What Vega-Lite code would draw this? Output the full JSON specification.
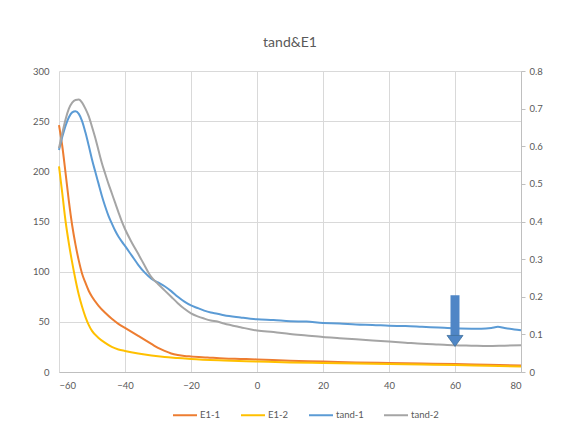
{
  "$schema": "https://vega.github.io/schema/vega-lite/v6.json",
  "width": 462,
  "height": 301,
  "autosize": {"type": "none"},
  "padding": {"left": 59, "top": 71, "right": 40, "bottom": 63},
  "background": "white",
  "title": {"text": "tand&E1", "fontSize": 14, "font": "Lato", "fontWeight": "normal", "color": "#595959", "offset": 16},
  "config": {
    "view": {"stroke": null},
    "axis": {"labelFont": "Lato", "labelColor": "#595959", "labelFontSize": 9.5, "gridColor": "#d9d9d9", "domainColor": "#bfbfbf", "tickColor": "#bfbfbf", "title": null, "labelOverlap": false},
    "legend": {"orient": "none", "legendX": 113, "legendY": 331, "direction": "horizontal", "symbolType": "stroke", "symbolSize": 576, "symbolStrokeWidth": 2, "labelFont": "Lato", "labelFontSize": 9.5, "labelColor": "#595959", "columnPadding": 16, "labelOffset": 2, "title": null}
  },
  "datasets": {
    "e1": [
      {"x": -60, "series": "E1-1", "v": 246}, {"x": -59, "series": "E1-1", "v": 225}, {"x": -58, "series": "E1-1", "v": 198}, {"x": -57, "series": "E1-1", "v": 170}, {"x": -56, "series": "E1-1", "v": 146}, {"x": -55, "series": "E1-1", "v": 127}, {"x": -54, "series": "E1-1", "v": 111}, {"x": -53, "series": "E1-1", "v": 98}, {"x": -52, "series": "E1-1", "v": 89}, {"x": -51, "series": "E1-1", "v": 81}, {"x": -50, "series": "E1-1", "v": 75}, {"x": -48, "series": "E1-1", "v": 66}, {"x": -46, "series": "E1-1", "v": 59}, {"x": -44, "series": "E1-1", "v": 53}, {"x": -42, "series": "E1-1", "v": 48}, {"x": -40, "series": "E1-1", "v": 44}, {"x": -38, "series": "E1-1", "v": 40}, {"x": -36, "series": "E1-1", "v": 36}, {"x": -34, "series": "E1-1", "v": 32}, {"x": -32, "series": "E1-1", "v": 28}, {"x": -30, "series": "E1-1", "v": 24}, {"x": -28, "series": "E1-1", "v": 21}, {"x": -26, "series": "E1-1", "v": 18.5}, {"x": -24, "series": "E1-1", "v": 17}, {"x": -22, "series": "E1-1", "v": 16}, {"x": -20, "series": "E1-1", "v": 15.5}, {"x": -15, "series": "E1-1", "v": 14.5}, {"x": -10, "series": "E1-1", "v": 13.5}, {"x": -5, "series": "E1-1", "v": 13}, {"x": 0, "series": "E1-1", "v": 12.5}, {"x": 10, "series": "E1-1", "v": 11.2}, {"x": 20, "series": "E1-1", "v": 10.5}, {"x": 30, "series": "E1-1", "v": 9.5}, {"x": 40, "series": "E1-1", "v": 9}, {"x": 50, "series": "E1-1", "v": 8.5}, {"x": 60, "series": "E1-1", "v": 8}, {"x": 70, "series": "E1-1", "v": 7.2}, {"x": 80, "series": "E1-1", "v": 6.5},
      {"x": -60, "series": "E1-2", "v": 205}, {"x": -59, "series": "E1-2", "v": 178}, {"x": -58, "series": "E1-2", "v": 150}, {"x": -57, "series": "E1-2", "v": 128}, {"x": -56, "series": "E1-2", "v": 109}, {"x": -55, "series": "E1-2", "v": 92}, {"x": -54, "series": "E1-2", "v": 77}, {"x": -53, "series": "E1-2", "v": 65}, {"x": -52, "series": "E1-2", "v": 55}, {"x": -51, "series": "E1-2", "v": 47}, {"x": -50, "series": "E1-2", "v": 41}, {"x": -48, "series": "E1-2", "v": 34}, {"x": -46, "series": "E1-2", "v": 29}, {"x": -44, "series": "E1-2", "v": 25}, {"x": -42, "series": "E1-2", "v": 22.5}, {"x": -40, "series": "E1-2", "v": 21}, {"x": -36, "series": "E1-2", "v": 18.5}, {"x": -32, "series": "E1-2", "v": 16.5}, {"x": -28, "series": "E1-2", "v": 15}, {"x": -24, "series": "E1-2", "v": 14}, {"x": -20, "series": "E1-2", "v": 13}, {"x": -10, "series": "E1-2", "v": 11.5}, {"x": 0, "series": "E1-2", "v": 10.5}, {"x": 10, "series": "E1-2", "v": 9.5}, {"x": 20, "series": "E1-2", "v": 9}, {"x": 30, "series": "E1-2", "v": 8.5}, {"x": 40, "series": "E1-2", "v": 8}, {"x": 50, "series": "E1-2", "v": 7.5}, {"x": 60, "series": "E1-2", "v": 7}, {"x": 70, "series": "E1-2", "v": 6.2}, {"x": 80, "series": "E1-2", "v": 5.5}
    ],
    "tand": [
      {"x": -60, "series": "tand-1", "v": 0.59}, {"x": -59, "series": "tand-1", "v": 0.625}, {"x": -58, "series": "tand-1", "v": 0.655}, {"x": -57, "series": "tand-1", "v": 0.677}, {"x": -56, "series": "tand-1", "v": 0.69}, {"x": -55, "series": "tand-1", "v": 0.693}, {"x": -54, "series": "tand-1", "v": 0.686}, {"x": -53, "series": "tand-1", "v": 0.667}, {"x": -52, "series": "tand-1", "v": 0.637}, {"x": -51, "series": "tand-1", "v": 0.602}, {"x": -50, "series": "tand-1", "v": 0.565}, {"x": -49, "series": "tand-1", "v": 0.532}, {"x": -48, "series": "tand-1", "v": 0.5}, {"x": -47, "series": "tand-1", "v": 0.468}, {"x": -46, "series": "tand-1", "v": 0.44}, {"x": -45, "series": "tand-1", "v": 0.415}, {"x": -44, "series": "tand-1", "v": 0.395}, {"x": -43, "series": "tand-1", "v": 0.376}, {"x": -42, "series": "tand-1", "v": 0.36}, {"x": -41, "series": "tand-1", "v": 0.347}, {"x": -40, "series": "tand-1", "v": 0.335}, {"x": -38, "series": "tand-1", "v": 0.31}, {"x": -36, "series": "tand-1", "v": 0.285}, {"x": -34, "series": "tand-1", "v": 0.264}, {"x": -32, "series": "tand-1", "v": 0.248}, {"x": -30, "series": "tand-1", "v": 0.238}, {"x": -28, "series": "tand-1", "v": 0.228}, {"x": -26, "series": "tand-1", "v": 0.215}, {"x": -24, "series": "tand-1", "v": 0.2}, {"x": -22, "series": "tand-1", "v": 0.187}, {"x": -20, "series": "tand-1", "v": 0.177}, {"x": -18, "series": "tand-1", "v": 0.17}, {"x": -16, "series": "tand-1", "v": 0.163}, {"x": -14, "series": "tand-1", "v": 0.158}, {"x": -12, "series": "tand-1", "v": 0.155}, {"x": -10, "series": "tand-1", "v": 0.151}, {"x": -5, "series": "tand-1", "v": 0.145}, {"x": 0, "series": "tand-1", "v": 0.14}, {"x": 5, "series": "tand-1", "v": 0.138}, {"x": 10, "series": "tand-1", "v": 0.135}, {"x": 15, "series": "tand-1", "v": 0.134}, {"x": 20, "series": "tand-1", "v": 0.13}, {"x": 25, "series": "tand-1", "v": 0.129}, {"x": 30, "series": "tand-1", "v": 0.126}, {"x": 35, "series": "tand-1", "v": 0.125}, {"x": 40, "series": "tand-1", "v": 0.123}, {"x": 45, "series": "tand-1", "v": 0.122}, {"x": 50, "series": "tand-1", "v": 0.12}, {"x": 55, "series": "tand-1", "v": 0.118}, {"x": 60, "series": "tand-1", "v": 0.116}, {"x": 65, "series": "tand-1", "v": 0.115}, {"x": 68, "series": "tand-1", "v": 0.115}, {"x": 71, "series": "tand-1", "v": 0.117}, {"x": 73, "series": "tand-1", "v": 0.12}, {"x": 75, "series": "tand-1", "v": 0.117}, {"x": 78, "series": "tand-1", "v": 0.113}, {"x": 80, "series": "tand-1", "v": 0.111},
      {"x": -60, "series": "tand-2", "v": 0.595}, {"x": -59, "series": "tand-2", "v": 0.635}, {"x": -58, "series": "tand-2", "v": 0.672}, {"x": -57, "series": "tand-2", "v": 0.7}, {"x": -56, "series": "tand-2", "v": 0.716}, {"x": -55, "series": "tand-2", "v": 0.723}, {"x": -54, "series": "tand-2", "v": 0.724}, {"x": -53, "series": "tand-2", "v": 0.716}, {"x": -52, "series": "tand-2", "v": 0.7}, {"x": -51, "series": "tand-2", "v": 0.68}, {"x": -50, "series": "tand-2", "v": 0.652}, {"x": -49, "series": "tand-2", "v": 0.622}, {"x": -48, "series": "tand-2", "v": 0.588}, {"x": -47, "series": "tand-2", "v": 0.555}, {"x": -46, "series": "tand-2", "v": 0.527}, {"x": -45, "series": "tand-2", "v": 0.5}, {"x": -44, "series": "tand-2", "v": 0.475}, {"x": -43, "series": "tand-2", "v": 0.45}, {"x": -42, "series": "tand-2", "v": 0.425}, {"x": -41, "series": "tand-2", "v": 0.401}, {"x": -40, "series": "tand-2", "v": 0.38}, {"x": -38, "series": "tand-2", "v": 0.345}, {"x": -36, "series": "tand-2", "v": 0.314}, {"x": -35, "series": "tand-2", "v": 0.298}, {"x": -34, "series": "tand-2", "v": 0.282}, {"x": -33, "series": "tand-2", "v": 0.266}, {"x": -32, "series": "tand-2", "v": 0.252}, {"x": -30, "series": "tand-2", "v": 0.234}, {"x": -28, "series": "tand-2", "v": 0.217}, {"x": -26, "series": "tand-2", "v": 0.2}, {"x": -24, "series": "tand-2", "v": 0.183}, {"x": -22, "series": "tand-2", "v": 0.168}, {"x": -20, "series": "tand-2", "v": 0.156}, {"x": -18, "series": "tand-2", "v": 0.148}, {"x": -16, "series": "tand-2", "v": 0.142}, {"x": -14, "series": "tand-2", "v": 0.137}, {"x": -12, "series": "tand-2", "v": 0.134}, {"x": -10, "series": "tand-2", "v": 0.129}, {"x": -5, "series": "tand-2", "v": 0.119}, {"x": 0, "series": "tand-2", "v": 0.11}, {"x": 5, "series": "tand-2", "v": 0.106}, {"x": 10, "series": "tand-2", "v": 0.101}, {"x": 15, "series": "tand-2", "v": 0.097}, {"x": 20, "series": "tand-2", "v": 0.093}, {"x": 25, "series": "tand-2", "v": 0.09}, {"x": 30, "series": "tand-2", "v": 0.087}, {"x": 35, "series": "tand-2", "v": 0.084}, {"x": 40, "series": "tand-2", "v": 0.081}, {"x": 45, "series": "tand-2", "v": 0.078}, {"x": 50, "series": "tand-2", "v": 0.075}, {"x": 55, "series": "tand-2", "v": 0.073}, {"x": 60, "series": "tand-2", "v": 0.071}, {"x": 65, "series": "tand-2", "v": 0.07}, {"x": 70, "series": "tand-2", "v": 0.069}, {"x": 75, "series": "tand-2", "v": 0.07}, {"x": 80, "series": "tand-2", "v": 0.071}
    ],
    "arrow": [{"x": 60, "top": 0.204, "bottom": 0.093, "head": 0.0825}]
  },
  "encoding": {
    "x": {"field": "x", "type": "quantitative", "scale": {"domain": [-60, 80], "nice": false, "zero": false},
      "axis": {"values": [-60, -40, -20, 0, 20, 40, 60, 80], "grid": true, "ticks": false, "labelPadding": 8, "domainColor": "#bfbfbf", "labelOverlap": false}}
  },
  "layer": [
    {
      "data": {"name": "e1"},
      "mark": {"type": "line", "strokeWidth": 2, "interpolate": "monotone"},
      "encoding": {
        "y": {"field": "v", "type": "quantitative", "scale": {"domain": [0, 300], "nice": false},
          "axis": {"orient": "left", "values": [0, 50, 100, 150, 200, 250, 300], "grid": true, "domain": false, "ticks": false, "labelPadding": 10, "labelOverlap": false}},
        "color": {"field": "series", "type": "nominal",
          "scale": {"domain": ["E1-1", "E1-2", "tand-1", "tand-2"], "range": ["#ED7D31", "#FFC000", "#5B9BD5", "#A5A5A5"]}}
      }
    },
    {
      "layer": [
        {
          "data": {"name": "tand"},
          "mark": {"type": "line", "strokeWidth": 2, "interpolate": "monotone"},
          "encoding": {
            "y": {"field": "v", "type": "quantitative", "scale": {"domain": [0, 0.8], "nice": false},
              "axis": {"orient": "right", "values": [0, 0.1, 0.2, 0.3, 0.4, 0.5, 0.6, 0.7, 0.8], "format": ".1~f", "grid": false, "domain": true, "ticks": true, "tickSize": 4, "labelPadding": 4, "labelOverlap": false, "labelBound": false, "labelFlush": false}},
            "color": {"field": "series", "type": "nominal",
              "scale": {"domain": ["E1-1", "E1-2", "tand-1", "tand-2"], "range": ["#ED7D31", "#FFC000", "#5B9BD5", "#A5A5A5"]}}
          }
        },
        {
          "data": {"name": "arrow"},
          "mark": {"type": "rule", "strokeWidth": 9, "color": "#4f86c6", "strokeCap": "butt"},
          "encoding": {
            "y": {"field": "top", "type": "quantitative", "scale": {"domain": [0, 0.8], "nice": false},
              "axis": {"orient": "right", "values": [0, 0.1, 0.2, 0.3, 0.4, 0.5, 0.6, 0.7, 0.8], "format": ".1~f", "grid": false, "domain": true, "ticks": true, "tickSize": 4, "labelPadding": 4, "labelOverlap": false, "labelBound": false, "labelFlush": false}},
            "y2": {"field": "bottom"}
          }
        },
        {
          "data": {"name": "arrow"},
          "mark": {"type": "point", "filled": true, "shape": "M-1,-0.69L1,-0.69L0,0.69Z", "size": 256, "color": "#4f86c6", "stroke": "#41719c", "strokeWidth": 0.8, "opacity": 1},
          "encoding": {
            "y": {"field": "head", "type": "quantitative", "scale": {"domain": [0, 0.8], "nice": false},
              "axis": {"orient": "right", "values": [0, 0.1, 0.2, 0.3, 0.4, 0.5, 0.6, 0.7, 0.8], "format": ".1~f", "grid": false, "domain": true, "ticks": true, "tickSize": 4, "labelPadding": 4, "labelOverlap": false, "labelBound": false, "labelFlush": false}}
          }
        }
      ]
    }
  ],
  "resolve": {"scale": {"y": "independent"}}
}
